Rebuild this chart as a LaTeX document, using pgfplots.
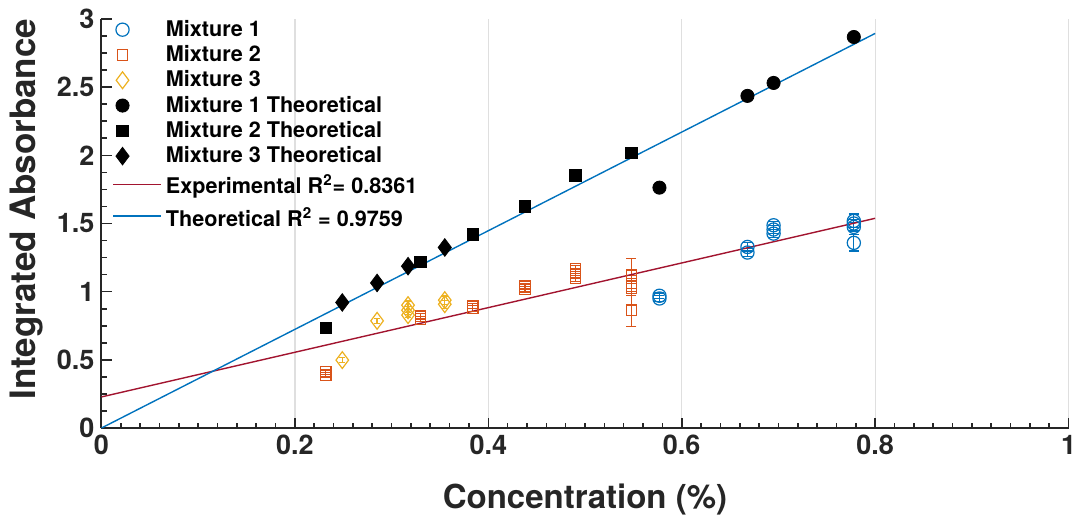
\documentclass[border=0pt]{standalone}
\usepackage{pgfplots}
\pgfplotsset{compat=1.18}
\usepackage{fontspec}
\setmainfont{TeX Gyre Heros}
\definecolor{mblue}{RGB}{0,114,189}
\definecolor{morange}{RGB}{217,83,25}
\definecolor{myellow}{RGB}{237,177,32}
\definecolor{mred}{RGB}{162,20,47}
\definecolor{axcol}{RGB}{38,38,38}
\definecolor{gridcol}{RGB}{223,223,223}
\pgfplotsset{fitlegend/.style={legend image code/.code={\draw[##1] (0.14cm,0cm) -- (0.98cm,0cm);}}}
\begin{document}
\begin{tikzpicture}
\path[use as bounding box] (-50.75pt,-43pt) rectangle (486.75pt,214pt);
\begin{axis}[
 at={(0,0)}, anchor=south west,
 scale only axis, width=483.5pt, height=204.5pt,
 xmin=0, xmax=1, ymin=0, ymax=3,
 axis x line=bottom, axis y line=left,
 axis line style={-, line width=1pt, axcol},
 xtick={0,0.2,0.4,0.6,0.8,1}, ytick={0,0.5,1,1.5,2,2.5,3},
 xticklabels={0,0.2,0.4,0.6,0.8,1}, yticklabels={0,0.5,1,1.5,2,2.5,3},
 minor x tick num=9, minor y tick num=3,
 tick align=inside, major tick length=5pt, minor tick length=2.5pt,
 tick style={axcol, line width=0.8pt},
 xmajorgrids, grid style={gridcol, line width=0.6pt},
 /pgf/number format/assume math mode=true,
 ticklabel style={font=\bfseries\fontsize{13.5}{16}\selectfont, text=axcol},
 label style={text=axcol},
 xlabel={Concentration (\%)}, ylabel={Integrated Absorbance},
 xlabel style={font=\bfseries\fontsize{16.5}{19}\selectfont, at={(axis description cs:0.5,-0.176)}, anchor=center},
 ylabel style={font=\bfseries\fontsize{17.5}{20}\selectfont, at={(axis description cs:-0.078,0.535)}, anchor=center},
 legend style={draw=none, fill=none, at={(axis description cs:0.0112,1.008)}, anchor=north west,
   font=\bfseries\fontsize{10.8}{13}\selectfont, row sep=-0.9pt, inner sep=0pt},
 legend cell align=left,
]
% Mixture 1
\addplot[only marks, mark=o, mark size=3.3pt, mblue, line width=0.6pt,
  error bars/.cd, y dir=both, y explicit, error bar style={line width=0.6pt},
  error mark options={rotate=90, mark size=2.5pt, line width=0.6pt}]
  table[x=x, y=y, y error=e] {
x y e
0.577 0.970 0.02
0.577 0.950 0.02
0.668 1.328 0.03
0.668 1.287 0.03
0.695 1.487 0.03
0.695 1.456 0.03
0.695 1.426 0.03
0.778 1.519 0.05
0.778 1.500 0.03
0.778 1.475 0.03
0.778 1.358 0.06
};
\addlegendentry{Mixture 1}
% Mixture 2
\addplot[only marks, mark=square, mark size=2.6pt, morange, line width=0.6pt,
  error bars/.cd, y dir=both, y explicit, error bar style={line width=0.6pt},
  error mark options={rotate=90, mark size=2.5pt, line width=0.6pt}]
  table[x=x, y=y, y error=e] {
x y e
0.232 0.412 0.02
0.232 0.388 0.02
0.330 0.820 0.02
0.330 0.800 0.02
0.384 0.894 0.02
0.384 0.877 0.02
0.438 1.040 0.02
0.438 1.016 0.02
0.490 1.170 0.02
0.490 1.133 0.03
0.490 1.097 0.02
0.548 1.121 0.12
0.548 1.060 0.06
0.548 1.023 0.05
0.548 0.864 0.12
};
\addlegendentry{Mixture 2}
% Mixture 3
\addplot[only marks, mark=diamond, mark size=4.2pt, myellow, line width=0.6pt,
  error bars/.cd, y dir=both, y explicit, error bar style={line width=0.6pt},
  error mark options={rotate=90, mark size=1.5pt, line width=0.6pt}]
  table[x=x, y=y, y error=e] {
x y e
0.249 0.498 0.02
0.285 0.786 0.02
0.317 0.901 0.03
0.317 0.864 0.03
0.317 0.828 0.02
0.355 0.938 0.03
0.355 0.908 0.03
};
\addlegendentry{Mixture 3}
% Theoretical
\addplot[only marks, mark=*, mark size=3.3pt, black] table {
0.577 1.763
0.668 2.436
0.695 2.531
0.778 2.868
};
\addlegendentry{Mixture 1 Theoretical}
\addplot[only marks, mark=square*, mark size=2.9pt, black] table {
0.232 0.735
0.330 1.218
0.384 1.419
0.438 1.626
0.490 1.851
0.548 2.017
};
\addlegendentry{Mixture 2 Theoretical}
\addplot[only marks, mark=diamond*, mark size=4.4pt, black] table {
0.249 0.921
0.285 1.064
0.317 1.187
0.355 1.324
};
\addlegendentry{Mixture 3 Theoretical}
% Fits
\addplot[mred, line width=0.7pt, fitlegend]
  coordinates {(0,0.228) (0.8,1.538)};
\addlegendentry{\rule{0pt}{11pt}Experimental R\textsuperscript{2}= 0.8361}
\addplot[mblue, line width=0.7pt, fitlegend]
  coordinates {(0,0) (0.8,2.894)};
\addlegendentry{\rule{0pt}{11.5pt}Theoretical R\textsuperscript{2} = 0.9759}
\end{axis}
\end{tikzpicture}
\end{document}
